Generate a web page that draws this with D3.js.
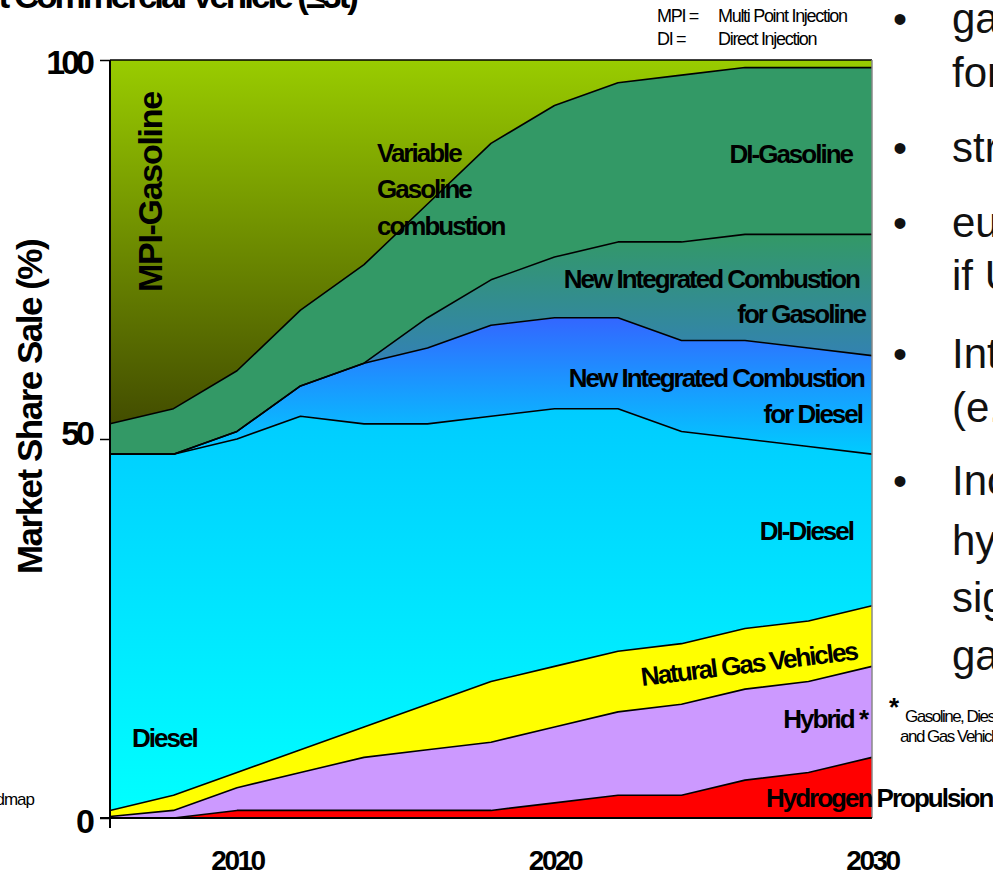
<!DOCTYPE html>
<html>
<head>
<meta charset="utf-8">
<script src="https://cdn.jsdelivr.net/npm/d3@7"></script>
<style>
  html, body { margin: 0; padding: 0; background: #fff; overflow: hidden; }
  svg { display: block; font-family: "Liberation Sans", Arial, sans-serif; }
</style>
</head>
<body>
<svg id="chart" width="993" height="876"></svg>
<script>
// ---------------- data ----------------
const years = [2006, 2008, 2010, 2012, 2014, 2016, 2018, 2020, 2022, 2024, 2026, 2028, 2030];
const seriesNames = ["Hydrogen Propulsion", "Hybrid", "Natural Gas Vehicles", "DI-Diesel",
  "New Integrated Combustion for Diesel", "New Integrated Combustion for Gasoline", "DI-Gasoline", "MPI-Gasoline"];
const hydrogen = [0, 0, 1, 1, 1, 1, 1, 2, 3, 3, 5, 6, 8];
const hybrid = [0.2, 1, 3, 5, 7, 8, 9, 10, 11, 12, 12, 12, 12];
const naturalGas = [0.8, 2, 2, 3, 4, 6, 8, 8, 8, 8, 8, 8, 8];
const diDiesel = [47, 45, 44, 44, 40, 37, 35, 34, 32, 28, 25, 23, 20];
const nicDiesel = [0, 0, 1, 4, 8, 10, 12, 12, 12, 12, 13, 13, 13];
const nicGasoline = [0, 0, 0, 0, 0, 4, 6, 8, 10, 13, 14, 15, 16];
const diGasoline = [4, 6, 8, 10, 13, 15, 18, 20, 21, 22, 22, 22, 22];
const mpiGasoline = [48, 46, 41, 33, 27, 19, 11, 6, 3, 2, 1, 1, 1];
const yTicks = [0, 50, 100];
const xTicks = [2010, 2020, 2030];

const seriesValues = [hydrogen, hybrid, naturalGas, diDiesel, nicDiesel, nicGasoline, diGasoline, mpiGasoline];
const table = years.map((yr, i) => {
  const row = { year: yr };
  seriesNames.forEach((k, j) => row[k] = seriesValues[j][i]);
  return row;
});

// ---------------- styles ----------------
const fills = {
  "Hydrogen Propulsion": ["#FF0000", "#FF0000"],
  "Hybrid": ["#CC99FF", "#CC99FF"],
  "Natural Gas Vehicles": ["#FFFF00", "#FFFF00"],
  "DI-Diesel": ["#00CCFF", "#00FFFF"],
  "New Integrated Combustion for Diesel": ["#3366FF", "#00CCFF"],
  "New Integrated Combustion for Gasoline": ["#339966", "#3370EE"],
  "DI-Gasoline": ["#339966", "#339966"],
  "MPI-Gasoline": ["#99CC00", "#434D00"]
};

const svg = d3.select("#chart");
const FONT = '"Liberation Sans", Arial, sans-serif';

const x = d3.scaleLinear().domain([2006, 2030]).range([110, 872]);
const y = d3.scaleLinear().domain([0, 100]).range([818, 60]);

const defs = svg.append("defs");
seriesNames.forEach((k, i) => {
  const g = defs.append("linearGradient").attr("id", "grad" + i)
    .attr("x1", 0).attr("y1", 0).attr("x2", 0).attr("y2", 1);
  g.append("stop").attr("offset", "0%").attr("stop-color", fills[k][0]);
  g.append("stop").attr("offset", "100%").attr("stop-color", fills[k][1]);
});

const stack = d3.stack().keys(seriesNames);
const layers = stack(table);

const area = d3.area()
  .x(d => x(d.data.year))
  .y0(d => y(d[0]))
  .y1(d => y(d[1]));
const line = d3.line()
  .x(d => x(d.data.year))
  .y(d => y(d[1]));

svg.append("g").selectAll("path").data(layers).join("path")
  .attr("d", area)
  .attr("fill", (d, i) => `url(#grad${i})`)
  .attr("stroke", "none");

svg.append("g").selectAll("path").data(layers.slice(0, layers.length - 1)).join("path")
  .attr("d", line)
  .attr("fill", "none")
  .attr("stroke", "#000")
  .attr("stroke-width", 1.6)
  .attr("stroke-linejoin", "round");

// frame
svg.append("line").attr("x1", 110).attr("x2", 872).attr("y1", y(100)).attr("y2", y(100))
  .attr("stroke", "#000").attr("stroke-width", 1.6);
svg.append("line").attr("x1", 872).attr("x2", 872).attr("y1", y(100)).attr("y2", y(0))
  .attr("stroke", "#888").attr("stroke-width", 1.5);

// y axis
const yAxis = svg.append("g").attr("transform", "translate(110,0)")
  .call(d3.axisLeft(y).tickValues(yTicks).tickSize(10).tickPadding(9).tickFormat(d3.format("d")));
yAxis.select(".domain").remove();
yAxis.selectAll(".tick line").attr("stroke", "#000").attr("stroke-width", 1.5);
const yDy = { 0: 14, 50: 5, 100: 13 };
yAxis.selectAll(".tick text")
  .attr("dy", d => yDy[d])
  .attr("font-family", FONT).attr("font-size", 34).attr("font-weight", "bold")
  .attr("letter-spacing", -4).attr("fill", "#000");
svg.append("line").attr("x1", 110).attr("x2", 110).attr("y1", y(100)).attr("y2", y(0) + 10)
  .attr("stroke", "#000").attr("stroke-width", 2);
svg.append("line").attr("x1", 100).attr("x2", 872).attr("y1", y(0)).attr("y2", y(0))
  .attr("stroke", "#000").attr("stroke-width", 2.2);

// x axis
const xAxis = svg.append("g").attr("transform", "translate(0,844)")
  .call(d3.axisBottom(x).tickValues(xTicks).tickSize(0).tickPadding(0).tickFormat(d3.format("d")));
xAxis.select(".domain").remove();
xAxis.selectAll(".tick text")
  .attr("y", 0).attr("dy", 26)
  .attr("font-family", FONT).attr("font-size", 28).attr("font-weight", "bold")
  .attr("letter-spacing", -2.5).attr("fill", "#000");

// helper
function label(txt, px, py, opts = {}) {
  const t = svg.append("text")
    .attr("x", px).attr("y", py)
    .attr("font-family", FONT)
    .attr("font-size", opts.size || 26)
    .attr("font-weight", opts.weight || "bold")
    .attr("letter-spacing", opts.ls !== undefined ? opts.ls : -2)
    .attr("text-anchor", opts.anchor || "start")
    .attr("fill", opts.fill || "#000")
    .text(txt);
  if (opts.transform) t.attr("transform", opts.transform).attr("x", 0).attr("y", 0);
  return t;
}

// title (cut off at top)
label("Light Commercial Vehicle (≤3t)", 356, 8, { size: 35, ls: -3, anchor: "end" });

// abbreviations
label("MPI =", 657, 22, { size: 18, weight: "normal", ls: -1.3 });
label("Multi Point Injection", 718, 22, { size: 18, weight: "normal", ls: -1.3 });
label("DI =", 657, 45, { size: 18, weight: "normal", ls: -1.3 });
label("Direct Injection", 718, 45, { size: 18, weight: "normal", ls: -1.3 });

// y axis title
label("Market Share Sale (%)", 0, 0, { size: 35, ls: -1.5, anchor: "middle",
  transform: "translate(42,407) rotate(-90)" });

// area labels
label("MPI-Gasoline", 0, 0, { size: 34, ls: -1.3, transform: "translate(162,292) rotate(-90)" });
label("Variable", 377, 162);
label("Gasoline", 377, 198);
label("combustion", 377, 235);
label("DI-Gasoline", 852, 163, { anchor: "end" });
label("New Integrated Combustion", 859, 288, { anchor: "end" });
label("for Gasoline", 865, 323, { anchor: "end" });
label("New Integrated Combustion", 864, 387, { anchor: "end" });
label("for Diesel", 862, 423, { anchor: "end" });
label("DI-Diesel", 853, 540, { anchor: "end" });
label("Diesel", 132, 747);
label("Natural Gas Vehicles", 0, 0, { transform: "translate(642,686) rotate(-7)" });
label("Hybrid *", 867, 728, { anchor: "end" });
label("Hydrogen Propulsion", 766, 807);

// left cut text
label("Roadmap", 34, 805, { size: 17, weight: "normal", ls: -1, anchor: "end" });

// right side slide text (cut off)
const bulletLines = [
  { b: true, t: "gasoline", yb: 33 },
  { b: false, t: "for", yb: 87 },
  { b: true, t: "strong", yb: 162 },
  { b: true, t: "euro", yb: 237 },
  { b: false, t: "if US", yb: 290 },
  { b: true, t: "Integrated", yb: 368 },
  { b: false, t: "(e.g.", yb: 422 },
  { b: true, t: "Increasing", yb: 495 },
  { b: false, t: "hybrid", yb: 555 },
  { b: false, t: "significant", yb: 612 },
  { b: false, t: "gas", yb: 670 }
];
bulletLines.forEach(l => {
  if (l.b) label("•", 900, l.yb, { size: 40, weight: "normal", ls: 0, anchor: "middle", fill: "#111" });
  label(l.t, 952, l.yb, { size: 42, weight: "normal", ls: 0, fill: "#111" });
});
label("*", 889, 716, { size: 26, ls: 0 });
label("Gasoline, Diesel", 905, 722, { size: 17, weight: "normal", ls: -1.5 });
label("and Gas Vehicles", 900, 742, { size: 17, weight: "normal", ls: -1.5 });
</script>
</body>
</html>
